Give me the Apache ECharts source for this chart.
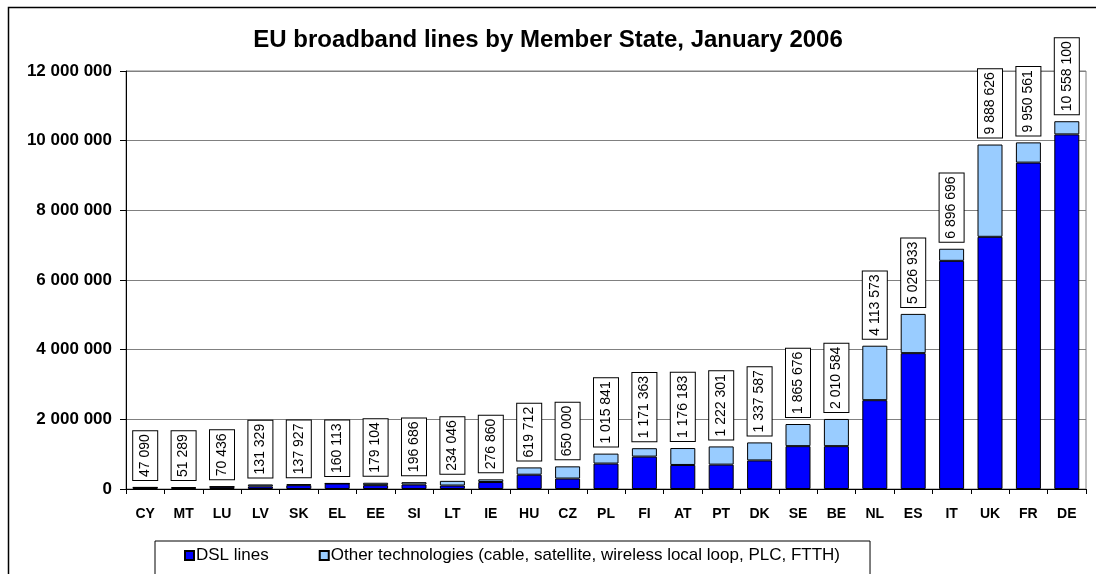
<!DOCTYPE html>
<html>
<head>
<meta charset="utf-8">
<script src="https://cdn.jsdelivr.net/npm/echarts@6/dist/echarts.min.js"></script>
<style>
html,body{margin:0;padding:0;background:#fff;}
#chart{width:1096px;height:574px;}
</style>
</head>
<body>
<div id="chart"></div>
<script>
const categories = ['CY','MT','LU','LV','SK','EL','EE','SI','LT','IE','HU','CZ','PL','FI','AT','PT','DK','SE','BE','NL','ES','IT','UK','FR','DE'];
const totalLines = [47090,51289,70436,131329,137927,160113,179104,196686,234046,276860,619712,650000,1015841,1171363,1176183,1222301,1337587,1865676,2010584,4113573,5026933,6896696,9888626,9950561,10558100];
const dslLines = [42000,30000,62000,75000,110000,158000,110000,130000,100000,200000,410000,300000,730000,930000,690000,700000,820000,1230000,1230000,2550000,3900000,6550000,7240000,9370000,10180000];
const otherLines = totalLines.map((t,i)=>t-dslLines[i]);
const yTicks = [0,2000000,4000000,6000000,8000000,10000000,12000000];
const seriesNames = ['DSL lines','Other technologies (cable, satellite, wireless local loop, PLC, FTTH)'];

function fmt(v){ return String(v).replace(/\B(?=(\d{3})+(?!\d))/g,' '); }

const chart = echarts.init(document.getElementById('chart'), null, {renderer:'canvas'});
const FONT = 'Liberation Sans, Arial, sans-serif';
chart.setOption({
  animation:false,
  backgroundColor:'#fff',
  title:{
    text:'EU broadband lines by Member State, January 2006',
    left:'center', top:23,
    textStyle:{fontFamily:FONT,fontSize:24,fontWeight:'bold',color:'#000'}
  },
  graphic:[{
    type:'rect', shape:{x:8.5,y:7.5,width:1200,height:700},
    style:{fill:'none',stroke:'#000',lineWidth:1.5}, silent:true, z:-1
  }],
  legend:{
    left:155, top:541,
    padding:[6,30,20,29],
    itemGap:50,
    itemWidth:9, itemHeight:9,
    icon:'rect',
    borderColor:'#000', borderWidth:1,
    backgroundColor:'#fff',
    textStyle:{fontFamily:FONT,fontSize:17,color:'#000',padding:[0,0,0,-3]},
    data:seriesNames
  },
  grid:{left:126,right:10,top:71,bottom:85,show:true,borderColor:'#808080',borderWidth:1},
  xAxis:{
    type:'category', data:categories,
    axisLine:{lineStyle:{color:'#000',width:1}},
    axisTick:{show:true,length:5,lineStyle:{color:'#000'}},
    axisLabel:{fontFamily:FONT,fontSize:14,fontWeight:'bold',color:'#000',margin:18,interval:0}
  },
  yAxis:{
    type:'value', min:0, max:12000000, interval:2000000,
    axisLine:{show:true,lineStyle:{color:'#000',width:1}},
    axisTick:{show:true,length:6,lineStyle:{color:'#000'}},
    splitLine:{lineStyle:{color:'#808080',width:1}},
    axisLabel:{fontFamily:FONT,fontSize:17,fontWeight:'bold',color:'#000',margin:14,
      formatter:function(v){ return yTicks.indexOf(v)>=0 ? fmt(v) : ''; }}
  },
  series:[
    {
      name:seriesNames[0], type:'bar', stack:'total', data:dslLines,
      barWidth:25,
      itemStyle:{color:'#0000FF',borderColor:'#000',borderWidth:1}
    },
    {
      name:seriesNames[1], type:'bar', stack:'total', data:otherLines,
      barWidth:25,
      itemStyle:{color:'#99CCFF',borderColor:'#000',borderWidth:1},
      label:{
        show:true, position:'top', distance:7, rotate:90,
        align:'left', verticalAlign:'middle',
        fontFamily:FONT, fontSize:14, color:'#000',
        backgroundColor:'#fff', borderColor:'#000', borderWidth:1,
        padding:[5,3,5,3],
        formatter:function(p){ return fmt(totalLines[p.dataIndex]); }
      }
    }
  ]
});
</script>
</body>
</html>
